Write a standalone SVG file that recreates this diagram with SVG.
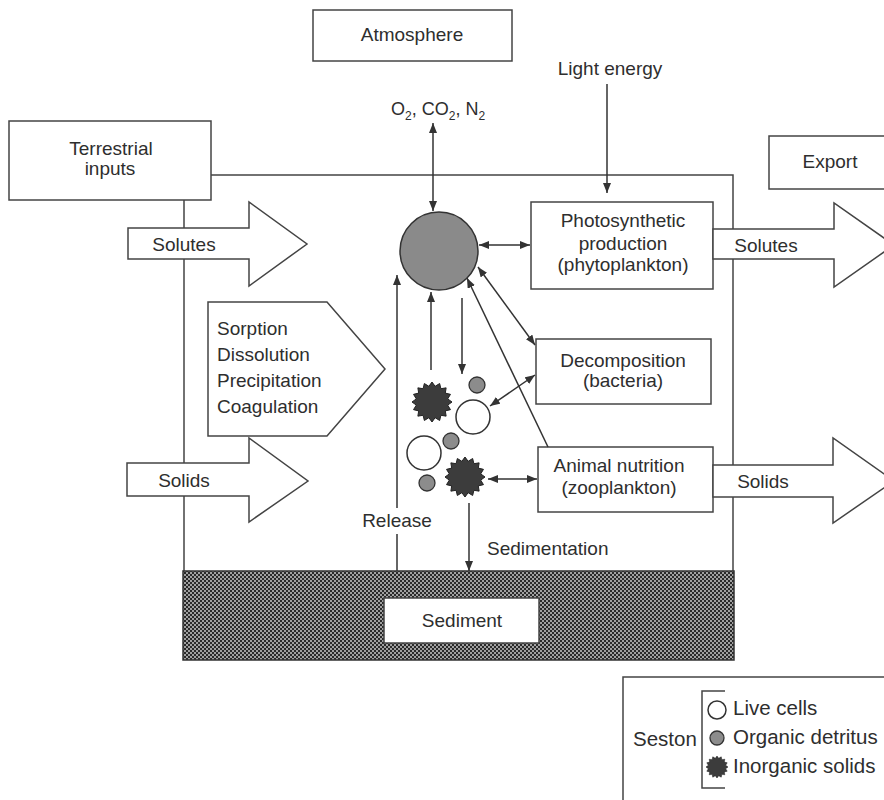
<svg xmlns="http://www.w3.org/2000/svg" xmlns:xlink="http://www.w3.org/1999/xlink" width="884" height="800" viewBox="0 0 884 800">
<style>
.t{font-family:"Liberation Sans",Arial,sans-serif;font-size:19px;fill:#2e2e2e;text-anchor:middle}
.l{text-anchor:start}
.lg{font-size:20.5px}
.box{fill:#fff;stroke:#444;stroke-width:1.5}
.ln{stroke:#444;stroke-width:1.5;fill:none}
.con{stroke:#333;stroke-width:1.5;fill:none}
.live{fill:#fff;stroke:#333;stroke-width:1.5}
.det{fill:#8c8c8c;stroke:#333;stroke-width:1.3}
.inorg{fill:#3c3c3c;stroke:#222;stroke-width:1}
</style>
<defs>
<marker id="ah" viewBox="0 0 10 8" refX="10" refY="4" markerWidth="10" markerHeight="8" markerUnits="userSpaceOnUse" orient="auto-start-reverse"><path d="M0,0 L10,4 L0,8 z" fill="#333"/></marker>
<pattern id="hatch" width="4" height="4" patternUnits="userSpaceOnUse"><rect width="4" height="4" fill="#a0a0a0"/><rect width="2" height="2" fill="#2a2a2a"/><rect x="2" y="2" width="2" height="2" fill="#2a2a2a"/></pattern>
<polygon id="star" points="20,0 15.69,3.12 18.48,7.65 13.3,8.89 14.14,14.14 8.89,13.3 7.65,18.48 3.12,15.69 0,20 -3.12,15.69 -7.65,18.48 -8.89,13.3 -14.14,14.14 -13.3,8.89 -18.48,7.65 -15.69,3.12 -20,0 -15.69,-3.12 -18.48,-7.65 -13.3,-8.89 -14.14,-14.14 -8.89,-13.3 -7.65,-18.48 -3.12,-15.69 0,-20 3.12,-15.69 7.65,-18.48 8.89,-13.3 14.14,-14.14 13.3,-8.89 18.48,-7.65 15.69,-3.12"/>
</defs>
<rect width="884" height="800" fill="#fff"/>

<g id="water-body">
<path class="ln" d="M211,175 H733 V572 M184,200 V572"/>
</g>

<g id="atmosphere">
<rect class="box" x="313" y="10" width="199" height="51"/>
<text class="t" x="412" y="41">Atmosphere</text>
</g>

<g id="light-energy">
<text class="t" x="610" y="75">Light energy</text>
</g>

<g id="gases">
<text class="t l" x="391" y="115" style="font-size:18px">O<tspan dy="5" style="font-size:12px">2</tspan><tspan dy="-5">, CO</tspan><tspan dy="5" style="font-size:12px">2</tspan><tspan dy="-5">, N</tspan><tspan dy="5" style="font-size:12px">2</tspan></text>
</g>

<g id="terrestrial-inputs">
<rect class="box" x="9" y="121" width="202" height="79"/>
<text class="t" x="111" y="155">Terrestrial</text>
<text class="t" x="110" y="175">inputs</text>
</g>

<g id="export">
<rect class="box" x="769" y="136" width="130" height="53"/>
<text class="t" x="830" y="168">Export</text>
</g>

<g id="solutes-in">
<polygon class="box" points="128,228 249,228 249,202 307,244 249,286 249,259 128,259"/>
<text class="t" x="184" y="251">Solutes</text>
</g>

<g id="solids-in">
<polygon class="box" points="127,463 249,463 249,438 308,481 249,522 249,496 127,496"/>
<text class="t" x="184" y="487">Solids</text>
</g>

<g id="processes">
<polygon class="box" points="208,302 327,302 385,369 327,436 208,436"/>
<text class="t l" x="217" y="335">Sorption</text>
<text class="t l" x="217" y="361">Dissolution</text>
<text class="t l" x="217" y="387">Precipitation</text>
<text class="t l" x="217" y="413">Coagulation</text>
</g>

<g id="photosynthetic">
<rect class="box" x="531" y="202" width="182" height="87"/>
<text class="t" x="623" y="227">Photosynthetic</text>
<text class="t" x="623" y="250">production</text>
<text class="t" x="623" y="271">(phytoplankton)</text>
</g>

<g id="decomposition">
<rect class="box" x="536" y="339" width="175" height="65"/>
<text class="t" x="623" y="367">Decomposition</text>
<text class="t" x="623" y="387">(bacteria)</text>
</g>

<g id="animal-nutrition">
<rect class="box" x="538" y="447" width="175" height="65"/>
<text class="t" x="619" y="472">Animal nutrition</text>
<text class="t" x="619" y="494">(zooplankton)</text>
</g>

<g id="solutes-out">
<polygon class="box" points="713,229 834,229 834,203 894,245 834,287 834,259 713,259"/>
<text class="t" x="766" y="252">Solutes</text>
</g>

<g id="solids-out">
<polygon class="box" points="713,465 833,465 833,438 894,481 833,523 833,497 713,497"/>
<text class="t" x="763" y="488">Solids</text>
</g>

<g id="sediment">
<rect x="183" y="571" width="551" height="89" fill="url(#hatch)" stroke="#333" stroke-width="1.5"/>
<rect class="box" x="384" y="598" width="155" height="45"/>
<text class="t" x="462" y="627">Sediment</text>
</g>

<g id="dissolved-pool">
<circle cx="439" cy="251" r="39" fill="#8a8a8a" stroke="#333" stroke-width="1.5"/>
</g>

<g id="seston-particles">
<use xlink:href="#star" href="#star" class="inorg" transform="translate(432,402)"/>
<circle class="det" cx="477" cy="385" r="8"/>
<circle class="live" cx="473" cy="417" r="17"/>
<circle class="det" cx="451" cy="441" r="8"/>
<circle class="live" cx="424" cy="453" r="17"/>
<circle class="det" cx="427" cy="483" r="8"/>
<use xlink:href="#star" href="#star" class="inorg" transform="translate(465,477)"/>
</g>

<g id="connectors">
<line class="con" x1="607" y1="84" x2="607" y2="193" marker-end="url(#ah)"/>
<line class="con" x1="433" y1="123" x2="433" y2="211" marker-start="url(#ah)" marker-end="url(#ah)"/>
<line class="con" x1="479" y1="245" x2="530" y2="245" marker-start="url(#ah)" marker-end="url(#ah)"/>
<line class="con" x1="478" y1="267" x2="535" y2="345" marker-start="url(#ah)" marker-end="url(#ah)"/>
<line class="con" x1="548" y1="447" x2="467" y2="278" marker-end="url(#ah)"/>
<line class="con" x1="431" y1="370" x2="431" y2="292" marker-end="url(#ah)"/>
<line class="con" x1="462" y1="298" x2="462" y2="374" marker-end="url(#ah)"/>
<line class="con" x1="535" y1="375" x2="490" y2="406" marker-start="url(#ah)" marker-end="url(#ah)"/>
<line class="con" x1="488" y1="479" x2="537" y2="479" marker-start="url(#ah)" marker-end="url(#ah)"/>
<line class="con" x1="469" y1="503" x2="469" y2="571" marker-end="url(#ah)"/>
<line class="con" x1="397" y1="571" x2="397" y2="534"/>
<line class="con" x1="397" y1="508" x2="397" y2="275" marker-end="url(#ah)"/>
</g>

<g id="connector-labels">
<text class="t" x="397" y="527">Release</text>
<text class="t l" x="487" y="555">Sedimentation</text>
</g>

<g id="legend">
<rect class="box" x="623" y="677" width="280" height="140"/>
<text class="t l lg" x="633" y="746">Seston</text>
<path class="ln" d="M725,691 H702 V788 H725"/>
<circle class="live" cx="717" cy="710" r="9"/>
<circle class="det" cx="717" cy="738" r="7"/>
<use xlink:href="#star" href="#star" class="inorg" transform="translate(717,767) scale(0.55)"/>
<text class="t l lg" x="733" y="715">Live cells</text>
<text class="t l lg" x="733" y="744">Organic detritus</text>
<text class="t l lg" x="733" y="773">Inorganic solids</text>
</g>
</svg>
